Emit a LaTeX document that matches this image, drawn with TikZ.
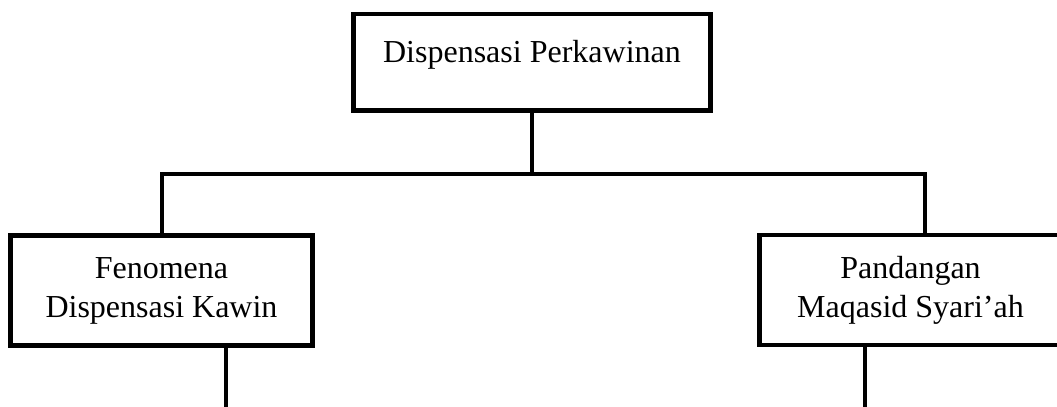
\documentclass[tikz,border=0pt]{standalone}
\usepackage{fontspec}
\setmainfont{Liberation Serif}
\usetikzlibrary{positioning, calc}

\begin{document}
\begin{tikzpicture}[x=0.75pt,y=-0.75pt,
    font=\fontsize{24pt}{29.25pt}\selectfont,
    box/.style={draw,line width=3.5pt,fill=white,align=center},
    link/.style={line width=2.4pt,line join=miter}]
  \useasboundingbox (0,0) rectangle (1057,407);
  % top box
  \node[box,inner xsep=0pt,inner ysep=0pt,minimum width=268pt,
        text height=36pt,text depth=36.5pt,anchor=base] (root) at (532,62)
        {Dispensasi Perkawinan};
  % two branches
  \node[box,minimum width=226.7pt,minimum height=82.7pt] (fen) at (161.5,290.5)
        {Fenomena\\Dispensasi Kawin};
  \node[box,minimum width=226.7pt,minimum height=82.7pt] (maq) at (910.5,290)
        {Pandangan\\Maqasid Syari’ah};
  \coordinate (jl) at (162,174);
  \coordinate (jr) at (925,174);
  \coordinate (fenend) at (226,407);
  \coordinate (maqend) at (865,407);
  \draw[link] (root.south) -- (root.south |- jl);
  \draw[link] (jl |- fen.north) -- (jl) -- (jr) -- (jr |- maq.north);
  \draw[link] (fenend |- fen.south) -- (fenend);
  \draw[link] (maqend |- maq.south) -- (maqend);
\end{tikzpicture}
\end{document}
